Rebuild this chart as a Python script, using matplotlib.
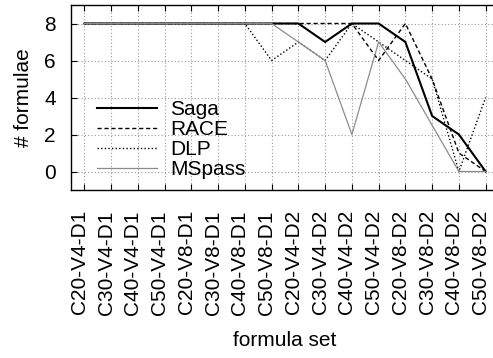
import matplotlib
matplotlib.use("Agg")
import matplotlib.pyplot as plt
import matplotlib.transforms as mtransforms
import numpy as np

# formula sets along the x axis
formula_sets = [
    "C20-V4-D1", "C30-V4-D1", "C40-V4-D1", "C50-V4-D1",
    "C20-V8-D1", "C30-V8-D1", "C40-V8-D1", "C50-V8-D1",
    "C20-V4-D2", "C30-V4-D2", "C40-V4-D2", "C50-V4-D2",
    "C20-V8-D2", "C30-V8-D2", "C40-V8-D2", "C50-V8-D2",
]

# number of formulae solved per prover
saga = [8, 8, 8, 8, 8, 8, 8, 8, 8, 7, 8, 8, 7, 3, 2, 0]
race = [8, 8, 8, 8, 8, 8, 8, 8, 8, 8, 8, 6, 8, 5, 1, 0]
dlp = [8, 8, 8, 8, 8, 8, 8, 6, 7, 6, 8, 7, 6, 5, 0, 4]
mspass = [8, 8, 8, 8, 8, 8, 8, 8, 7, 6, 2, 7, 5, 2.5, 0, 0]

y_ticks = [0, 2, 4, 6, 8]

plt.rcParams["font.family"] = ["Liberation Sans", "DejaVu Sans"]
FS = 15

W, H = 493, 358
fig = plt.figure(figsize=(W / 100, H / 100), dpi=100)

# axes in pixel terms: left 71, right 499 (clipped by the figure edge), top 5, bottom 190
left, right, top, bottom = 71, 499, 5, 190
ax = fig.add_axes([left / W, 1 - bottom / H, (right - left) / W, (bottom - top) / H])

x = np.arange(len(formula_sets))
ax.plot(x, saga, color="black", linewidth=1.5, linestyle="-", label="Saga")
ax.plot(x, race, color="black", linewidth=1.0, linestyle=(0, (3, 2)), label="RACE")
ax.plot(x, dlp, color="black", linewidth=1.0, linestyle=(0, (1, 1.6)), label="DLP")
ax.plot(x, mspass, color="#8c8c8c", linewidth=0.9, linestyle="-", label="MSpass")

ax.set_xlim(-0.5, 15.5)
ax.set_ylim(-1, 9)
ax.set_xticks(x)
ax.set_xticklabels(formula_sets, rotation=90, fontsize=FS)
ax.set_yticks(y_ticks)
ax.set_yticklabels([str(v) for v in y_ticks], fontsize=FS)

ax.tick_params(axis="both", direction="in", length=4, width=0.8,
               top=True, right=True)
ax.tick_params(axis="y", pad=11)
ax.tick_params(axis="x", pad=14.5)

# rotated labels sit a little left of their ticks, as in the original
shift = mtransforms.ScaledTranslation(-5 / 100, 0, fig.dpi_scale_trans)
for lbl in ax.get_xticklabels():
    lbl.set_transform(lbl.get_transform() + shift)

ax.grid(True, color="#9a9a9a", linestyle=(0, (1, 2)), linewidth=0.8)
ax.set_axisbelow(True)
for sp in ax.spines.values():
    sp.set_linewidth(1.0)

ax.set_xlabel("formula set", fontsize=FS, labelpad=12)
ax.set_ylabel("# formulae", fontsize=FS, labelpad=8)

leg = ax.legend(loc="center left", bbox_to_anchor=(97 / W, 1 - 139.5 / H),
                bbox_transform=fig.transFigure, frameon=False, fontsize=FS,
                handlelength=2.9, handletextpad=0.6, labelspacing=0.05,
                borderpad=0, borderaxespad=0)

fig.savefig("out.png", dpi=100)
